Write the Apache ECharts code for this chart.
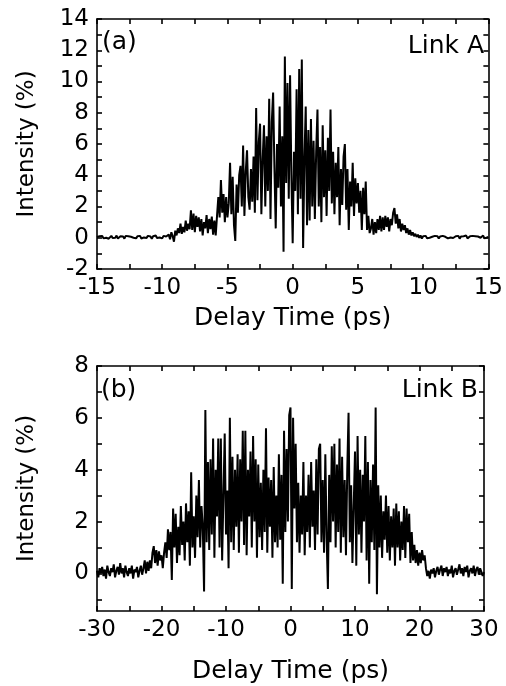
<!DOCTYPE html>
<html>
<head>
<meta charset="utf-8">
<script src="https://cdn.jsdelivr.net/npm/echarts@6.0.0/dist/echarts.min.js"></script>
<style>
html, body { margin: 0; padding: 0; background: #fff; }
#chart { width: 506px; height: 686px; }
</style>
</head>
<body>
<div id="chart"></div>
<script>
// panel (a) Link A: sampled every 0.1 ps starting at -15 ps
const startA = -15, stepA = 0.1;
const intensityA = [
    0.05,-0.05,0.10,0.02,0.12,-0.04,0.08,0.00,0.10,-0.06,   // -15
    0.06,0.12,-0.02,0.08,0.00,0.14,-0.05,0.06,0.10,0.00,    // -14
    0.08,-0.06,0.12,0.02,0.10,-0.02,0.06,0.15,0.00,0.08,    // -13
    -0.04,0.10,0.04,0.12,-0.05,0.06,0.02,0.10,-0.02,0.12,   // -12
    0.00,0.08,-0.06,0.10,0.04,0.14,-0.02,0.08,0.02,0.10,    // -11
    -0.04,0.12,0.00,0.08,0.05,0.20,-0.10,0.35,0.10,-0.25,   // -10
    0.45,0.15,0.60,0.30,0.90,0.25,0.70,0.35,1.10,0.45,      // -9
    0.90,0.55,1.75,0.50,1.55,0.35,1.40,0.70,1.30,0.40,      // -8
    1.20,0.15,1.00,0.60,1.45,0.30,1.20,0.55,1.35,0.20,      // -7
    1.10,0.15,1.40,2.60,1.30,3.70,1.60,2.80,1.00,2.60,      // -6
    1.30,2.20,4.80,1.50,3.90,0.80,-0.20,3.40,1.60,4.00,     // -5
    4.60,2.00,5.90,1.40,4.20,5.60,2.60,1.80,4.40,2.30,      // -4
    5.20,1.60,8.30,2.40,6.10,7.30,1.50,5.00,7.20,2.00,      // -3
    6.50,3.00,8.90,1.20,7.40,9.30,4.50,0.60,6.00,3.20,      // -2
    8.40,2.00,6.50,-0.90,11.60,3.50,9.90,2.50,10.40,4.00,   // -1
    -0.35,5.50,3.00,9.50,1.50,10.80,2.50,11.40,-0.65,5.00,  // 0
    8.40,0.80,6.90,1.10,7.60,2.00,6.20,1.20,5.50,8.20,      // 1
    2.00,5.80,1.00,7.20,2.60,5.60,1.40,6.40,3.00,8.20,      // 2
    2.20,5.50,1.50,4.80,2.60,5.80,0.80,4.40,2.10,5.20,      // 3
    6.00,1.80,4.40,0.50,3.60,2.00,4.80,1.40,3.80,2.20,      // 4
    3.50,1.60,3.00,0.50,3.20,1.50,3.60,0.50,1.40,0.30,      // 5
    0.60,1.20,0.20,1.00,0.30,1.20,0.50,1.40,0.40,1.30,      // 6
    0.50,1.40,0.70,1.30,0.40,1.20,0.80,1.60,1.90,0.90,      // 7
    1.50,0.60,1.20,0.40,0.90,0.50,0.80,0.30,0.60,0.20,      // 8
    0.50,0.15,0.35,0.10,0.25,0.05,0.20,0.00,0.15,-0.05,     // 9
    0.10,0.02,0.12,-0.04,0.08,0.00,0.10,0.06,-0.02,0.12,    // 10
    0.04,0.10,-0.05,0.08,0.02,0.12,0.00,0.06,0.10,-0.04,    // 11
    0.08,0.02,0.14,-0.02,0.06,0.10,0.00,0.12,-0.06,0.08,    // 12
    0.02,0.10,0.04,0.14,-0.04,0.06,0.10,0.00,0.12,0.04,     // 13
    0.10,-0.02,0.08,0.12,0.00,0.06,0.14,-0.04,0.08,0.02,    // 14
    0.05                                                    // 15
];

// panel (b) Link B: sampled every 0.2 ps starting at -30 ps
const startB = -30, stepB = 0.2;
const intensityB = [
    0.10,-0.15,0.20,0.00,0.25,-0.10,0.15,-0.20,0.30,0.05,   // -30
    -0.10,0.20,0.05,0.35,-0.15,0.10,0.25,-0.05,0.40,0.00,   // -28
    0.20,-0.15,0.30,0.05,-0.10,0.20,0.00,0.30,-0.20,0.15,   // -26
    0.05,0.25,-0.15,0.10,0.30,-0.05,0.20,0.50,0.00,0.45,    // -24
    0.10,0.50,0.20,0.80,1.05,0.40,0.90,0.30,0.85,0.50,      // -22
    0.70,0.20,0.80,1.20,0.60,1.70,0.90,1.60,-0.25,2.50,     // -20
    1.00,2.30,0.40,1.80,0.70,2.60,1.10,2.00,0.50,2.70,      // -18
    1.20,2.40,0.30,3.90,1.00,2.20,0.60,3.00,1.40,3.60,      // -16
    1.00,2.60,1.80,-0.70,6.30,1.20,4.30,0.90,4.40,1.50,     // -14
    5.20,0.60,4.00,2.20,5.20,1.00,5.20,0.50,3.00,5.40,      // -12
    1.50,3.20,0.20,6.00,1.20,4.50,0.90,4.00,1.80,4.60,      // -10
    0.80,4.40,2.00,5.50,1.10,5.50,0.70,4.00,2.20,4.70,      // -8
    1.00,5.30,2.00,4.40,0.60,4.20,1.40,3.50,0.90,4.00,      // -6
    1.60,5.60,0.80,3.70,1.80,3.60,0.60,4.10,1.20,3.00,      // -4
    1.00,4.60,1.30,3.80,-0.40,5.50,1.60,4.80,2.00,6.10,     // -2
    6.40,-0.60,6.00,2.50,5.00,1.20,3.50,0.80,3.00,1.50,     // 0
    4.30,0.70,3.00,1.60,3.80,1.00,4.30,1.80,3.20,0.90,      // 2
    4.40,1.50,4.80,5.00,1.20,3.60,0.80,4.60,1.40,-0.60,     // 4
    3.80,1.20,4.90,2.00,5.00,1.00,4.20,1.60,5.20,0.80,      // 6
    4.50,1.40,3.60,0.70,4.00,6.20,1.20,3.40,0.40,2.60,      // 8
    4.70,0.30,5.30,1.50,4.00,0.80,3.80,2.00,5.30,0.50,      // 10
    4.30,-0.40,3.60,1.20,4.20,0.90,6.40,-0.80,3.40,1.00,    // 12
    3.00,0.60,2.40,1.30,3.00,0.80,2.60,0.50,2.20,1.00,      // 14
    2.50,0.30,2.70,1.00,2.40,0.50,2.00,0.90,2.60,0.60,      // 16
    2.50,1.20,2.30,0.40,1.60,0.50,1.10,0.40,0.90,0.30,      // 18
    0.80,0.40,0.90,0.50,0.70,0.20,-0.10,0.10,-0.20,0.15,    // 20
    0.00,0.20,-0.15,0.10,0.25,-0.05,0.15,0.30,-0.10,0.20,   // 22
    0.05,0.25,-0.10,0.15,0.00,0.30,-0.15,0.10,0.20,-0.05,   // 24
    0.15,0.35,0.00,0.20,-0.10,0.25,0.05,0.30,-0.15,0.10,    // 26
    0.20,0.00,0.30,-0.10,0.15,0.25,-0.05,0.20,0.05,-0.10,   // 28
    0.05                                                    // 30
];

// ticks and labels
const xTicksA = [-15,-12.5,-10,-7.5,-5,-2.5,0,2.5,5,7.5,10,12.5,15];
const xLabelsA = [-15,-10,-5,0,5,10,15];
const yTicksA = [-2,-1,0,1,2,3,4,5,6,7,8,9,10,11,12,13,14];
const yLabelsA = [-2,0,2,4,6,8,10,12,14];
const xTicksB = [-30,-25,-20,-15,-10,-5,0,5,10,15,20,25,30];
const xLabelsB = [-30,-20,-10,0,10,20,30];
const yTicksB = [-1,0,1,2,3,4,5,6,7,8];
const yLabelsB = [0,2,4,6,8];

const font = 'DejaVu Sans';
const black = '#000';

function toPairs(start, step, values) {
    return values.map((v, i) => [+(start + i * step).toFixed(2), v]);
}

function axis(gridIndex, position, min, max, ticks, labels, name, nameGap, nameSize) {
    return {
        type: 'value',
        gridIndex: gridIndex,
        position: position,
        min: min,
        max: max,
        name: name || '',
        nameLocation: 'middle',
        nameGap: nameGap || 0,
        nameTextStyle: { color: black, fontSize: nameSize || 25, fontFamily: font },
        axisLine: { show: true, onZero: false, lineStyle: { color: black, width: 1.6 } },
        axisTick: { show: true, inside: true, length: 5, customValues: ticks, lineStyle: { color: black, width: 1.6 } },
        axisLabel: labels ? {
            show: true, customValues: labels, color: black, fontSize: 23, fontFamily: font, margin: 8
        } : { show: false },
        splitLine: { show: false }
    };
}

const chart = echarts.init(document.getElementById('chart'), null, { renderer: 'canvas' });

chart.setOption({
    animation: false,
    backgroundColor: '#fff',
    grid: [
        { left: 97, top: 19, width: 392, height: 250 },
        { left: 97, top: 366, width: 387, height: 245 }
    ],
    xAxis: [
        axis(0, 'bottom', -15, 15, xTicksA, xLabelsA, 'Delay Time (ps)', 37, 25),
        axis(0, 'top', -15, 15, xTicksA, null),
        axis(1, 'bottom', -30, 30, xTicksB, xLabelsB, 'Delay Time (ps)', 48, 25),
        axis(1, 'top', -30, 30, xTicksB, null)
    ],
    yAxis: [
        axis(0, 'left', -2, 14, yTicksA, yLabelsA, 'Intensity (%)', 58, 23),
        axis(0, 'right', -2, 14, yTicksA, null),
        axis(1, 'left', -1.45, 8, yTicksB, yLabelsB, 'Intensity (%)', 58, 23),
        axis(1, 'right', -1.45, 8, yTicksB, null)
    ],
    series: [
        {
            type: 'line',
            xAxisIndex: 0,
            yAxisIndex: 0,
            data: toPairs(startA, stepA, intensityA),
            showSymbol: false,
            lineStyle: { color: black, width: 2 },
            silent: true
        },
        {
            type: 'line',
            xAxisIndex: 2,
            yAxisIndex: 2,
            data: toPairs(startB, stepB, intensityB),
            showSymbol: false,
            lineStyle: { color: black, width: 2 },
            silent: true
        }
    ],
    graphic: [
        { type: 'text', x: 102, y: 30, style: { text: '(a)', fill: black, fontSize: 25, fontFamily: font } },
        { type: 'text', x: 484, y: 34, style: { text: 'Link A', fill: black, fontSize: 25, fontFamily: font, textAlign: 'right' } },
        { type: 'text', x: 101, y: 378, style: { text: '(b)', fill: black, fontSize: 25, fontFamily: font } },
        { type: 'text', x: 478, y: 378, style: { text: 'Link B', fill: black, fontSize: 25, fontFamily: font, textAlign: 'right' } }
    ]
});
</script>
</body>
</html>
